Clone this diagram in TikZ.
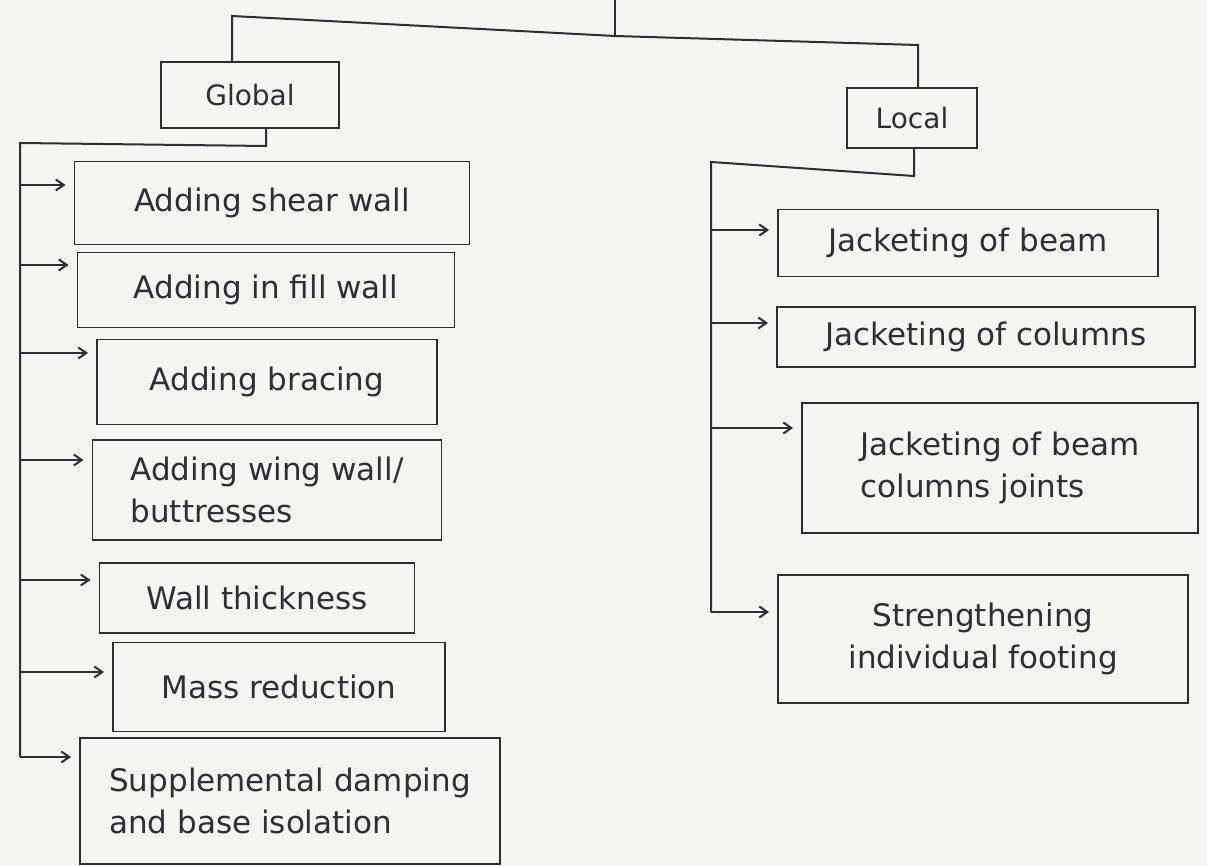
\documentclass[tikz,border=0pt]{standalone}
\usepackage{fontspec}
\setmainfont{DejaVu Sans}
\usetikzlibrary{arrows.meta}
\definecolor{paper}{HTML}{F5F5F2}
\definecolor{ink}{HTML}{2E2E36}
\begin{document}
\begin{tikzpicture}[x=1pt,y=-1pt,
  box/.style={draw=ink, line width=1.9pt, inner sep=4pt, text=ink,
    font=\fontsize{31}{42}\selectfont},
  head/.style={box, font=\fontsize{28}{32}\selectfont},
  link/.style={draw=ink, line width=2pt},
  arr/.style={link, shorten >=8pt, -{Straight Barb[length=8pt,width=11pt]}}]
\fill[paper] (0,0) rectangle (1207,866);
\useasboundingbox (0,0) rectangle (1207,866);

% heads
\node[head, minimum width=178pt, minimum height=66pt] (Global) at (250,95) {Global};
\node[head, minimum width=130pt, minimum height=60pt] (Local) at (912,118) {Local};

% global items
\node[box, minimum width=395pt, minimum height=83pt] (g1) at (272,203) {Adding shear wall};
\node[box, minimum width=377pt, minimum height=75pt] (g2) at (266,290) {Adding in fill wall};
\node[box, minimum width=340pt, minimum height=85pt] (g3) at (267,382) {Adding bracing};
\node[box, minimum width=349pt, minimum height=100pt, align=left] (g4) at (267,490) {Adding wing wall/\\buttresses};
\node[box, minimum width=315pt, minimum height=70pt] (g5) at (257,598) {Wall thickness};
\node[box, minimum width=332pt, minimum height=89pt] (g6) at (279,687) {Mass reduction};
\node[box, minimum width=420pt, minimum height=126pt, align=left] (g7) at (290,801) {Supplemental damping\\and base isolation};

% local items
\node[box, minimum width=380pt, minimum height=67pt] (l1) at (968,243) {Jacketing of beam};
\node[box, minimum width=418pt, minimum height=60pt] (l2) at (986,337) {Jacketing of columns};
\node[box, minimum width=396pt, minimum height=130pt, align=left] (l3) at (1000,468) {Jacketing of beam\\columns joints};
\node[box, minimum width=410pt, minimum height=128pt, align=center] (l4) at (983,639) {Strengthening\\individual footing};

% top tree
\coordinate (root) at (615,0);
\coordinate (hub) at (615,36);
\coordinate (gl) at (232,16);
\coordinate (lc) at (918,45);
\draw[link] (root) -- (hub);
\draw[link] (Global.north -| gl) -- (gl) -- (hub) -- (lc) -- (lc |- Local.north);

% global branch
\coordinate (gb) at (266,146);
\coordinate (gt) at (20,143);
\coordinate (ge) at (20,757);
\draw[link] (Global.south -| gb) -- (gb) -- (gt) -- (ge);
\foreach \n/\yy in {g1/185, g2/265, g3/353, g4/460, g5/580, g6/672, g7/757}{
  \coordinate (t\n) at (20,\yy);
  \draw[arr] (t\n) -- (t\n -| \n.west);
}

% local branch
\coordinate (lb) at (914,176);
\coordinate (lt) at (711,162);
\coordinate (le) at (711,612);
\draw[link] (Local.south -| lb) -- (lb) -- (lt) -- (le);
\foreach \n/\yy in {l1/230, l2/323, l3/428, l4/612}{
  \coordinate (t\n) at (711,\yy);
  \draw[arr] (t\n) -- (t\n -| \n.west);
}
\end{tikzpicture}
\end{document}
